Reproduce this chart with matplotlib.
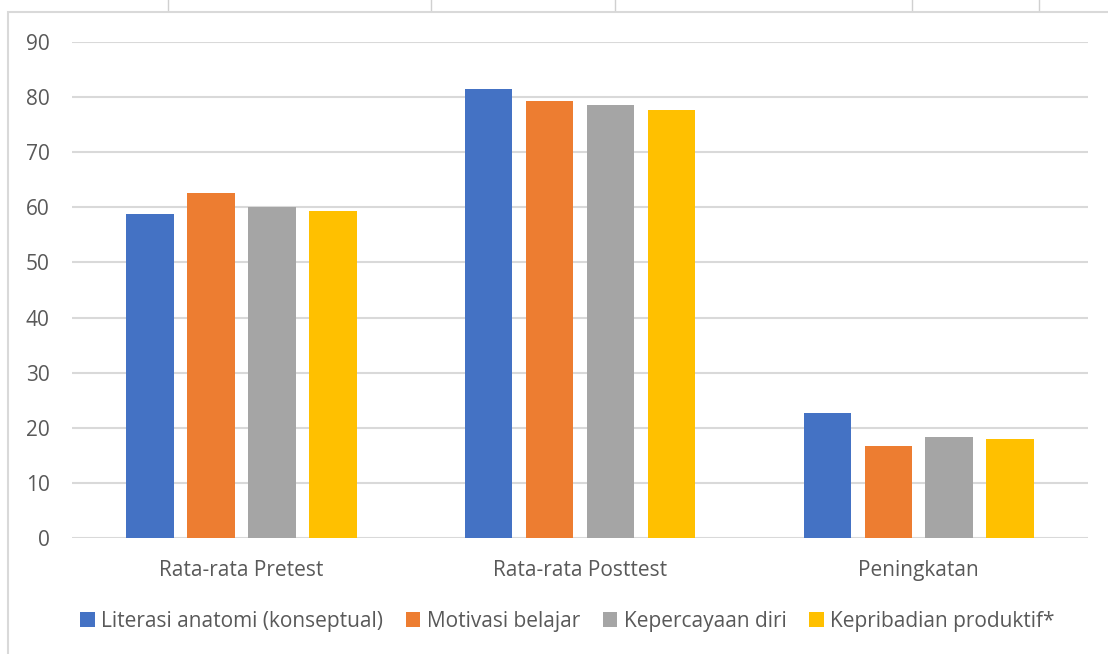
import matplotlib.pyplot as plt
import numpy as np
from matplotlib.patches import Rectangle
from matplotlib.lines import Line2D

categories = ['Rata-rata Pretest', 'Rata-rata Posttest', 'Peningkatan']
series = ['Literasi anatomi (konseptual)', 'Motivasi belajar', 'Kepercayaan diri', 'Kepribadian produktif*']
literasi = [58.8, 81.5, 22.7]
motivasi = [62.6, 79.3, 16.6]
percaya = [60.1, 78.6, 18.3]
pribadi = [59.3, 77.7, 18.0]
colors = ['#4472C4', '#ED7D31', '#A5A5A5', '#FFC000']

plt.rcParams['font.family'] = ['Open Sans', 'DejaVu Sans']

fig = plt.figure(figsize=(11.08, 6.54), dpi=100)
ax = fig.add_axes([0.065, 0.1774, 0.917, 0.7584])

x = np.arange(len(categories))
slot = 0.18
for i, (vals, name) in enumerate(zip([literasi, motivasi, percaya, pribadi], series)):
    ax.bar(x + (i - 1.5) * slot, vals, width=0.14, color=colors[i], label=name, zorder=3)

ax.set_xlim(-0.5, 2.5)
ax.set_ylim(0, 90)
ax.set_yticks(range(0, 91, 10))
ax.set_xticks(x)
ax.set_xticklabels(categories)
ax.grid(axis='y', color='#d9d9d9', linewidth=1.5, zorder=0)
for s in ax.spines.values():
    s.set_visible(False)
ax.tick_params(axis='both', length=0, labelsize=15, colors='#595959')
ax.tick_params(axis='y', pad=16)
ax.tick_params(axis='x', pad=16)

fig.legend(loc='center', bbox_to_anchor=(0.512, 0.05), ncol=4, frameon=False,
           fontsize=15, handlelength=0.7, handleheight=0.7, handletextpad=0.3,
           columnspacing=1.1, labelcolor='#595959')

# light frame of the embedded chart
fig.add_artist(Rectangle((8 / 1108, -0.01), 1.1, 1 - 12 / 654 + 0.01,
                         transform=fig.transFigure, fill=False,
                         edgecolor='#d9d9d9', linewidth=1.5))
# table borders of the page above the chart
for px in [168, 431, 615, 912, 1039]:
    fig.add_artist(Line2D([px / 1108, px / 1108], [1 - 10 / 654, 1], transform=fig.transFigure,
                          color='#d0d0d0', linewidth=1))

fig.savefig('out.png', dpi=100)
